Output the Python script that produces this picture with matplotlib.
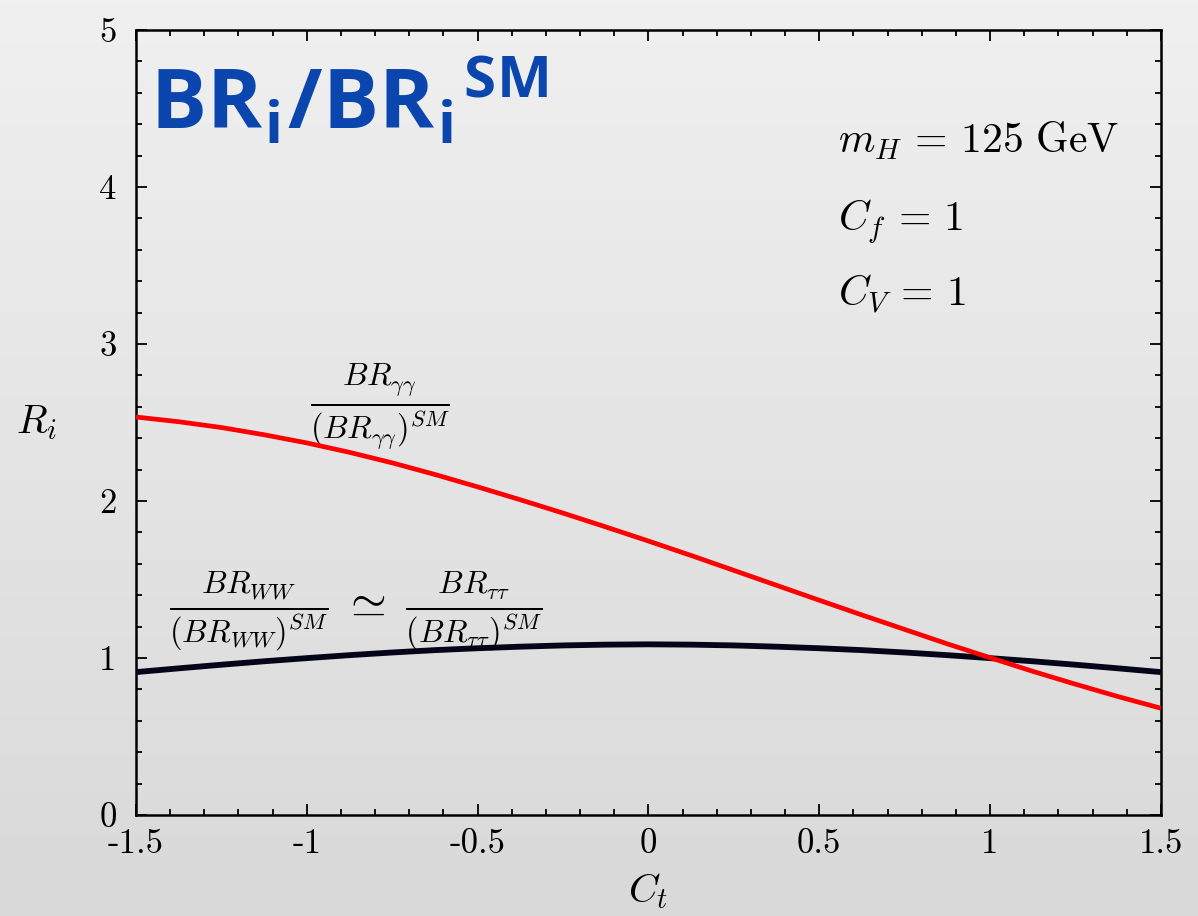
import numpy as np
import matplotlib
matplotlib.use("Agg")
import matplotlib.pyplot as plt
from matplotlib.ticker import MultipleLocator, FormatStrFormatter

plt.rcParams["font.family"] = "cmr10"
plt.rcParams["mathtext.fontset"] = "cm"
plt.rcParams["axes.unicode_minus"] = False
plt.rcParams["axes.formatter.use_mathtext"] = False

# top-quark coupling scan
ct = [-1.5, -1.375, -1.25, -1.125, -1.0, -0.875, -0.75, -0.625, -0.5, -0.375, -0.25, -0.125,
      0.0, 0.125, 0.25, 0.375, 0.5, 0.625, 0.75, 0.875, 1.0, 1.125, 1.25, 1.375, 1.5]
# BR(gamma gamma) / BR_SM
r_gamgam = [2.535, 2.505, 2.468, 2.422, 2.370, 2.310, 2.243, 2.169, 2.090, 2.008, 1.923, 1.835,
            1.745, 1.653, 1.558, 1.463, 1.368, 1.274, 1.182, 1.090, 1.002, 0.915, 0.833, 0.754, 0.680]
# BR(WW) / BR_SM  (~ BR(tau tau) / BR_SM)
r_ww = [0.910, 0.934, 0.957, 0.979, 0.999, 1.018, 1.035, 1.050, 1.062, 1.072, 1.080, 1.085,
        1.087, 1.085, 1.080, 1.072, 1.062, 1.050, 1.035, 1.018, 0.999, 0.979, 0.957, 0.934, 0.910]

x_ticks = [-1.5, -1, -0.5, 0, 0.5, 1, 1.5]
x_ticklabels = ["-1.5", "-1", "-0.5", "0", "0.5", "1", "1.5"]
y_ticks = [0, 1, 2, 3, 4, 5]

fig = plt.figure(figsize=(11.98, 9.16), dpi=100)

# soft grey slide background
bg = fig.add_axes([0, 0, 1, 1], zorder=-10)
grad = np.linspace(0, 1, 256).reshape(-1, 1)
bg.imshow(grad, aspect="auto", cmap=matplotlib.colors.LinearSegmentedColormap.from_list(
    "bg", ["#f0f0f0", "#d9d9d9"]), extent=[0, 1, 0, 1], origin="upper")
bg.set_axis_off()

ax = fig.add_axes([0.1135, 0.1103, 0.8555, 0.8569])
ax.set_facecolor("none")

ax.plot(ct, r_ww, color="#05051a", lw=4.2, solid_capstyle="butt", zorder=3)
ax.plot(ct, r_gamgam, color="#ff0000", lw=3.4, solid_capstyle="butt", zorder=4)

ax.set_xlim(-1.5, 1.5)
ax.set_ylim(0, 5)
ax.set_xticks(x_ticks)
ax.set_xticklabels(x_ticklabels)
ax.set_yticks(y_ticks)
ax.yaxis.set_major_formatter(FormatStrFormatter("%d"))
ax.xaxis.set_minor_locator(MultipleLocator(0.1))
ax.yaxis.set_minor_locator(MultipleLocator(0.2))
ax.tick_params(which="both", direction="in", top=True, right=True, width=1.3, color="black")
ax.tick_params(which="major", length=8)
ax.tick_params(which="minor", length=4)
ax.tick_params(axis="x", which="major", labelsize=25, pad=10)
ax.tick_params(axis="y", which="major", labelsize=25, pad=14)
for s in ax.spines.values():
    s.set_linewidth(1.8)

ax.set_xlabel(r"$C_t$", fontsize=29, labelpad=8)
ax.set_ylabel(r"$R_i$", fontsize=29, rotation=0, labelpad=45, va="center")

ax.text(0.555, 4.22, r"$m_H\,=\,125\ \mathrm{GeV}$", fontsize=30, va="baseline", ha="left")
ax.text(0.555, 3.72, r"$C_f\,=\,1$", fontsize=30, va="baseline", ha="left")
ax.text(0.555, 3.24, r"$C_V\,=\,1$", fontsize=30, va="baseline", ha="left")

ax.text(-0.786, 2.60, r"$\frac{BR_{\gamma\gamma}}{(BR_{\gamma\gamma})^{SM}}$",
        fontsize=33, ha="center", va="center")
ax.text(-0.856, 1.29,
        r"$\frac{BR_{WW}}{(BR_{WW})^{SM}}\;\simeq\;\frac{BR_{\tau\tau}}{(BR_{\tau\tau})^{SM}}$",
        fontsize=33, ha="center", va="center")

ax.text(-1.46, 4.363, r"BR$_{\mathregular{i}}$/BR$_{\mathregular{i}}$$^{\mathregular{SM}}$",
        fontsize=60, family="Open Sans", weight="bold", color="#0b46ae",
        ha="left", va="baseline")

fig.savefig("out.png", dpi=100)
